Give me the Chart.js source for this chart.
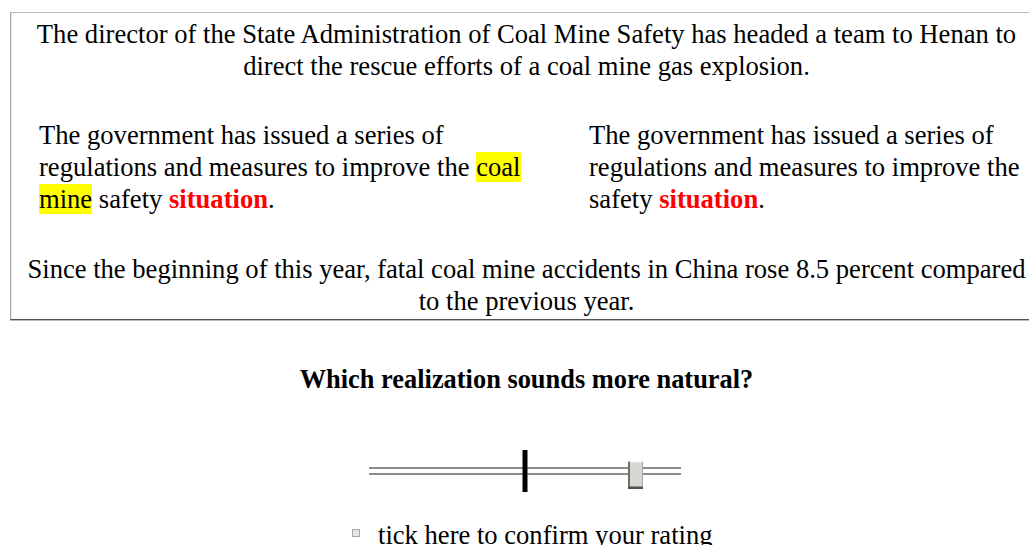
<!DOCTYPE html>
<html>
<head>
<meta charset="utf-8">
<script src="https://cdn.jsdelivr.net/npm/chart.js@4"></script>
<style>
  html, body { margin:0; padding:0; background:#fff; width:1029px; height:545px; overflow:hidden; }
  body { position:relative; font-family:"Liberation Serif","Times New Roman",serif; color:#000; }
  .t { position:absolute; font-size:26.6px; line-height:32px; white-space:nowrap; }
  .c { left:0; width:1053px; text-align:center; }
  .box { position:absolute; left:10px; top:12px; width:1100px; height:306px;
         border-top:1px solid #b8b8b8; border-left:1px solid #a8a8a8; border-bottom:1px solid #505050;
         box-shadow: inset 1px 0 0 #e4e4e4, 0 1px 0 #b8b8b8; }
  .hl { background:#ffff00; }
  .red { color:#ff0000; font-weight:bold; }
  .q { font-weight:bold; font-size:26.4px; }
  #cb { position:absolute; left:352px; top:529px; width:6px; height:6px; border:1px solid #a8a8a8; background:#e6e6e6; }
  #sliderWrap { position:absolute; left:359px; top:441px; width:332px; height:60px; }
</style>
</head>
<body>
<div class="box"></div>
<div class="t c" style="top:18px">The director of the State Administration of Coal Mine Safety has headed a team to Henan to<br>direct the rescue efforts of a coal mine gas explosion.</div>
<div class="t" style="left:39px; top:119px">The government has issued a series of<br>regulations and measures to improve the <span class="hl">coal</span><br><span class="hl">mine</span> safety <span class="red">situation</span>.</div>
<div class="t" style="left:589px; top:119px">The government has issued a series of<br>regulations and measures to improve the<br>safety <span class="red">situation</span>.</div>
<div class="t c" style="top:253px">Since the beginning of this year, fatal coal mine accidents in China rose 8.5 percent compared<br>to the previous year.</div>
<div class="t c q" style="top:363px">Which realization sounds more natural?</div>
<div id="sliderWrap"><canvas id="slider" width="332" height="60"></canvas></div>
<div id="cb"></div>
<div class="t" style="left:378px; top:519px">tick here to confirm your rating</div>
<script>
// Slider "data": scale range, neutral midpoint, and the current rating
const sliderRange = [0, 100];
const midpointValue = [50];
const ratingValue = [85.4];

// thumb image (point style)
function makeThumb() {
  const c = document.createElement('canvas');
  c.width = 15; c.height = 35;
  const g = c.getContext('2d');
  const top = 8, h = 27, w = 15;
  g.fillStyle = '#d8d6d0'; g.fillRect(0, top, w, h);
  g.fillStyle = '#f0f0ec'; g.fillRect(2, top, w - 2, 1);
  g.fillStyle = '#707070'; g.fillRect(0, top, 2, h);
  g.fillStyle = '#505050'; g.fillRect(0, top + h - 2, w, 2);
  g.fillStyle = '#a8a8a4'; g.fillRect(w - 1, top, 1, h - 2);
  return c;
}

new Chart(document.getElementById('slider'), {
  type: 'scatter',
  data: {
    datasets: [
      { data: sliderRange.map(v => ({x: v, y: 0})), showLine: true, borderColor: '#8c8c8c', borderWidth: 8, borderCapStyle: 'butt', pointRadius: 0, clip: false, order: 4 },
      { data: sliderRange.map(v => ({x: v, y: 0})), showLine: true, borderColor: '#ffffff', borderWidth: 4, borderCapStyle: 'butt', pointRadius: 0, clip: false, order: 3 },
      { data: [{x: midpointValue[0], y: -1}, {x: midpointValue[0], y: 1}], showLine: true, borderColor: '#000000', borderWidth: 5, borderCapStyle: 'butt', pointRadius: 0, clip: false, order: 2 },
      { data: ratingValue.map(v => ({x: v, y: 0})), pointStyle: makeThumb(), pointRadius: 8, clip: false, order: 1 }
    ]
  },
  options: {
    responsive: false, animation: false, events: [],
    layout: { padding: { left: 10, right: 10, top: 9, bottom: 6 } },
    plugins: { legend: { display: false }, tooltip: { enabled: false } },
    scales: {
      x: { type: 'linear', min: sliderRange[0], max: sliderRange[1], display: false },
      y: { type: 'linear', min: -1, max: 1, display: false }
    }
  }
});
</script>
</body>
</html>
